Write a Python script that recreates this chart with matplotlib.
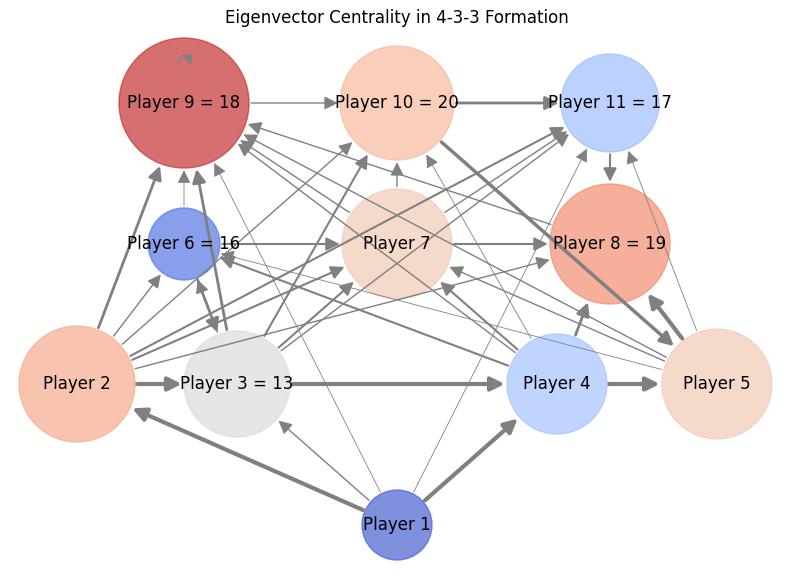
import matplotlib
matplotlib.use("Agg")
import matplotlib.pyplot as plt
from matplotlib.patches import Circle, FancyArrowPatch

# player labels and centrality values
labels = ["Player 1", "Player 2", "Player 3 = 13", "Player 4", "Player 5", "Player 6 = 16",
          "Player 7", "Player 8 = 19", "Player 9 = 18", "Player 10 = 20", "Player 11 = 17"]
centrality = [0.05, 0.70, 0.50, 0.32, 0.60, 0.10, 0.60, 0.78, 0.95, 0.66, 0.30]
node_size = [35, 58, 53, 50, 55, 36, 55, 60, 65, 57, 49]

# passes: (from, to, weight) ; players numbered 1..11
passes = [
    (1, 2, 3), (1, 4, 3), (1, 3, 1), (1, 9, 0.6), (1, 11, 0.6),
    (2, 3, 3), (3, 4, 3), (4, 5, 3),
    (2, 9, 2), (2, 6, 1), (2, 7, 1.5), (2, 8, 1), (2, 10, 1), (2, 11, 1.5),
    (3, 9, 2), (3, 6, 1), (3, 7, 1.5), (3, 10, 1.5), (3, 11, 1),
    (4, 6, 1.5), (4, 8, 2), (4, 9, 1), (4, 7, 1.5), (4, 10, 0.6),
    (5, 8, 3), (5, 9, 1), (5, 6, 0.6), (10, 5, 2.5), (5, 11, 0.6), (5, 7, 1),
    (6, 9, 0.6), (6, 7, 1.5), (6, 3, 2),
    (7, 9, 1), (7, 8, 1.5), (7, 10, 1), (7, 11, 1),
    (8, 9, 1), (11, 8, 1.5),
    (9, 10, 1), (10, 11, 2), (9, 9, 1),
]

# 4-3-3 layout in pixel coordinates
pos = {1: (397, 525), 2: (77, 384), 3: (237, 384), 4: (557, 384), 5: (717, 384),
       6: (184, 244), 7: (397, 244), 8: (610, 244),
       9: (184, 103), 10: (397, 103), 11: (610, 103)}

fig = plt.figure(figsize=(7.94, 5.81), dpi=100)
ax = fig.add_axes([0, 0, 1, 1])
ax.set_xlim(0, 794)
ax.set_ylim(581, 0)
ax.set_aspect("equal")
ax.axis("off")

cmap = plt.get_cmap("coolwarm")
circles = {}
for i in range(11):
    n = i + 1
    c = Circle(pos[n], node_size[i], facecolor=cmap(centrality[i]), edgecolor=cmap(centrality[i]),
               alpha=0.7, zorder=1)
    ax.add_patch(c)
    circles[n] = c

for a, b, w in passes:
    if a == b:
        x, y = pos[a]
        loop = FancyArrowPatch((x - 8, y - 35), (x + 8, y - 35), connectionstyle="arc3,rad=-1.6",
                               arrowstyle="-|>", mutation_scale=15, color="grey", lw=w, zorder=2)
        ax.add_patch(loop)
        continue
    arr = FancyArrowPatch(pos[a], pos[b], patchA=circles[a], patchB=circles[b],
                          arrowstyle="-|>", mutation_scale=20, color="grey", lw=w, zorder=2)
    ax.add_patch(arr)

for i in range(11):
    ax.text(*pos[i + 1], labels[i], ha="center", va="center", fontsize=12, zorder=3)

ax.text(397, 18, "Eigenvector Centrality in 4-3-3 Formation", ha="center", va="center", fontsize=12)

fig.savefig("out.png", dpi=100)
